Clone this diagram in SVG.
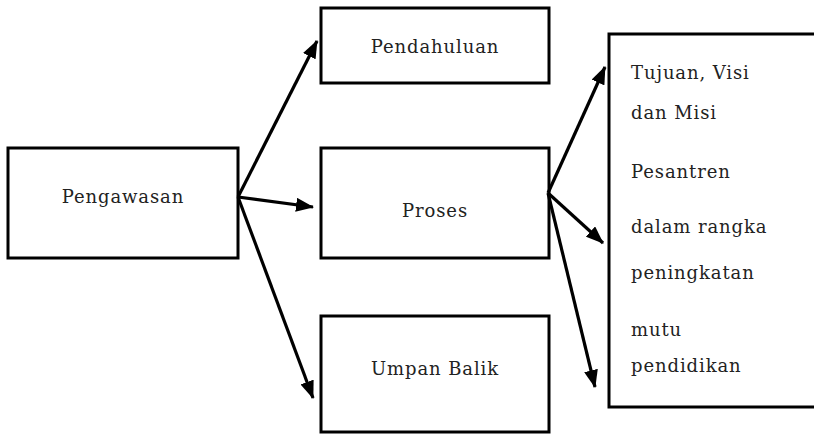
<svg xmlns="http://www.w3.org/2000/svg" width="814" height="434" viewBox="0 0 814 434">
<style>
.box{fill:#fff;stroke:#000;stroke-width:3}
.lbl{font-family:"DejaVu Serif","Liberation Serif",serif;font-size:18px;letter-spacing:0.9px;fill:#222}
.c{text-anchor:middle}
.ln{stroke:#000;stroke-width:3.2;fill:none;marker-end:url(#ah)}
</style>
<defs>
<marker id="ah" markerUnits="userSpaceOnUse" markerWidth="18" markerHeight="14" refX="17" refY="7" orient="auto">
<path d="M0,0 L18,7 L0,14 Z" fill="#000"/>
</marker>
</defs>
<g id="pengawasan"><rect class="box" x="8" y="148" width="230" height="110"/><text class="lbl c" x="123" y="203">Pengawasan</text></g>
<g id="pendahuluan"><rect class="box" x="321" y="8" width="228" height="75"/><text class="lbl c" x="435" y="53">Pendahuluan</text></g>
<g id="proses"><rect class="box" x="321" y="148" width="228" height="110"/><text class="lbl c" x="435" y="217">Proses</text></g>
<g id="umpan"><rect class="box" x="321" y="316" width="228" height="116"/><text class="lbl c" x="435" y="375">Umpan Balik</text></g>
<g id="tujuan"><rect class="box" x="609" y="34" width="215" height="373"/>
<text class="lbl" x="631" y="79">Tujuan, Visi</text>
<text class="lbl" x="631" y="119">dan Misi</text>
<text class="lbl" x="631" y="178">Pesantren</text>
<text class="lbl" x="631" y="233">dalam rangka</text>
<text class="lbl" x="631" y="279">peningkatan</text>
<text class="lbl" x="631" y="336">mutu</text>
<text class="lbl" x="631" y="372">pendidikan</text>
</g>
<g id="connectors">
<line class="ln" x1="238" y1="197" x2="317" y2="41"/>
<line class="ln" x1="238" y1="197" x2="313" y2="207"/>
<line class="ln" x1="238" y1="197" x2="313" y2="398"/>
<line class="ln" x1="548" y1="193" x2="605" y2="67"/>
<line class="ln" x1="548" y1="193" x2="603" y2="243"/>
<line class="ln" x1="548" y1="193" x2="595" y2="387"/>
</g>
</svg>
